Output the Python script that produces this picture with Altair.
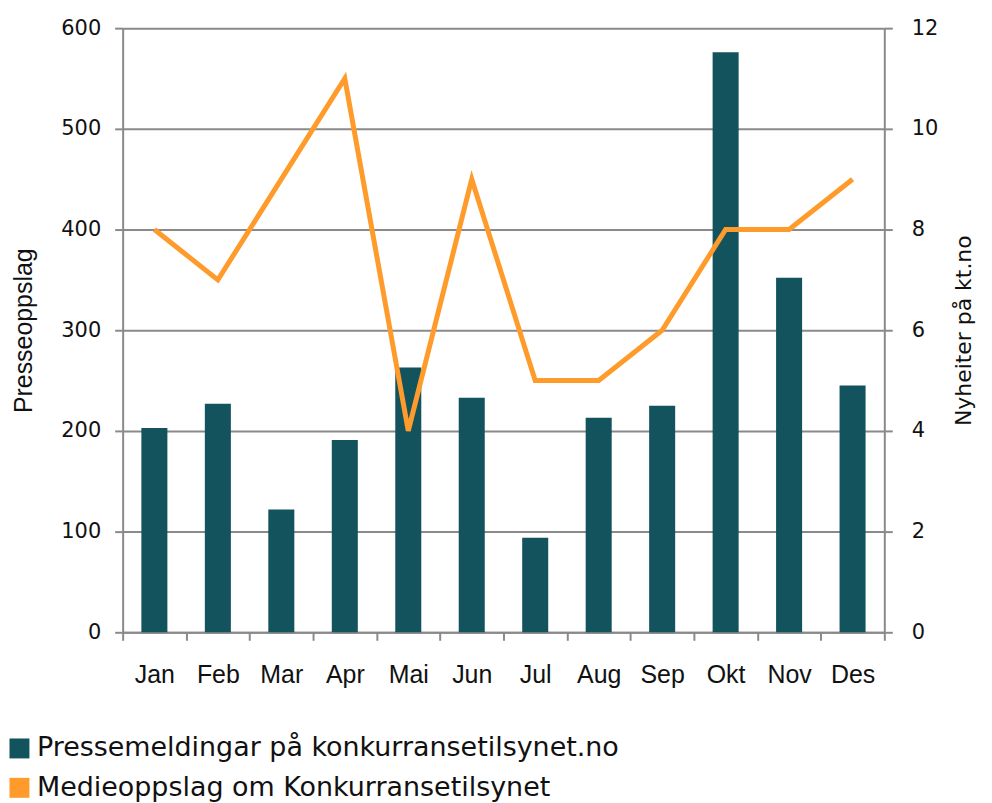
import altair as alt
import pandas as pd

months = ["Jan", "Feb", "Mar", "Apr", "Mai", "Jun", "Jul", "Aug", "Sep", "Okt", "Nov", "Des"]
bar_values = [203, 227, 122, 191, 263, 233, 94, 213, 225, 576, 352, 245]
line_values = [8, 7, 9, 11, 4, 9, 5, 5, 6, 8, 8, 9]
bar_name = "Pressemeldingar på konkurransetilsynet.no"
line_name = "Medieoppslag om Konkurransetilsynet"
teal = "#12535E"
orange = "#FF9B2B"

df = pd.DataFrame({"month": months, "bars": bar_values, "line": line_values})

x_enc = alt.X(
    "month:N", sort=months, title=None,
    scale=alt.Scale(paddingInner=0, paddingOuter=0),
    axis=alt.Axis(labelAngle=0, tickBand="extent", tickSize=8, labelPadding=22,
                  labelFont="Liberation Sans", labelFontSize=25, labelColor="#111",
                  domainColor="#8a8a8a", domainWidth=2, tickColor="#8a8a8a", tickWidth=2,
                  grid=False),
)

color_scale = alt.Scale(domain=[bar_name, line_name], range=[teal, orange])

bars = alt.Chart(df).mark_bar(width=alt.RelativeBandSize(0.41), color=teal).encode(
    x=x_enc,
    y=alt.Y("bars:Q", title="Presseoppslag",
            scale=alt.Scale(domain=[0, 600], nice=False),
            axis=alt.Axis(values=[0, 100, 200, 300, 400, 500, 600], orient="left",
                          tickSize=8, labelPadding=14, labelFont="DejaVu Sans", labelFontSize=21,
                          labelColor="#111", titleFont="Liberation Sans", titleFontSize=25,
                          titleFontWeight="normal", titleColor="#111", titlePadding=24,
                          domainColor="#8a8a8a", domainWidth=2, tickColor="#8a8a8a", tickWidth=2,
                          grid=True, gridColor="#8a8a8a", gridWidth=2)),
    color=alt.Color("s:N", scale=color_scale, legend=alt.Legend(
        title=None, orient="none", legendX=-117, legendY=709, symbolType="square",
        symbolSize=400, symbolStrokeWidth=0, labelFont="DejaVu Sans", labelFontSize=27,
        labelColor="#111", labelLimit=900, rowPadding=11.5, labelOffset=4)),
).transform_calculate(s=f"'{bar_name}'")

line = alt.Chart(df).mark_line(strokeWidth=5, color=orange).encode(
    x=x_enc,
    y=alt.Y("line:Q", title="Nyheiter på kt.no",
            scale=alt.Scale(domain=[0, 12], nice=False),
            axis=alt.Axis(values=[0, 2, 4, 6, 8, 10, 12], orient="right",
                          tickSize=8, labelPadding=19, labelFont="DejaVu Sans", labelFontSize=21,
                          labelColor="#111", titleFont="DejaVu Sans", titleFontSize=22,
                          titleFontWeight="normal", titleColor="#111", titlePadding=38,
                          titleAngle=270,
                          domainColor="#8a8a8a", domainWidth=2, tickColor="#8a8a8a", tickWidth=2,
                          grid=False)),
    color=alt.Color("s:N", scale=color_scale, legend=None),
).transform_calculate(s=f"'{line_name}'")

chart = alt.layer(bars, line).resolve_scale(y="independent").properties(
    width=764, height=606,
    autosize=alt.AutoSizeParams(type="none"),
    padding={"left": 115, "top": 19, "right": 100, "bottom": 170},
).configure_view(stroke=None)

chart.save("out.html", embed_options={"renderer": "svg", "actions": False})
